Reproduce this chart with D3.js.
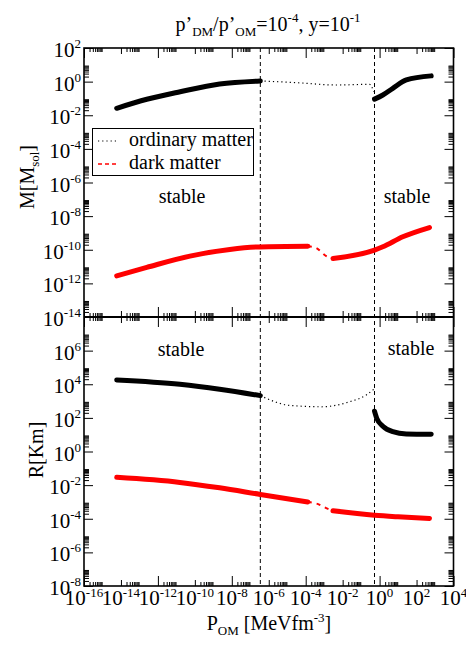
<!DOCTYPE html>
<html>
<head>
<meta charset="utf-8">
<script src="https://cdn.jsdelivr.net/npm/d3@7"></script>
<style>
  body { margin: 0; background: #fff; }
</style>
</head>
<body>
<div id="chart"></div>
<script>
// transition pressures (MeV fm^-3) marking the unstable region
var pCrit = [3.5e-7, 0.53];

// top panel: mass [M_sol] vs P_OM, [pressure, value]
var massOrdStable1 = [[5.9e-15, 0.026], [2.5e-13, 0.089], [1.6e-11, 0.25], [2.2e-9, 0.72], [3.5e-7, 1.1]];
var massOrdUnstable = [[3.5e-7, 1.1], [3.2e-5, 0.87], [4.6e-3, 0.63], [0.29, 0.69], [0.48, 0.25]];
var massOrdStable2 = [[0.53, 0.091], [1.5, 0.16], [5.2, 0.40], [28, 1.26], [620, 2.2]];
var massDarkStable1 = [[5.9e-15, 2.8e-12], [2.5e-13, 8.9e-12], [5.4e-11, 4.2e-11], [7.8e-9, 1.05e-10], [3.2e-7, 1.48e-10], [1.3e-4, 1.6e-10]];
var massDarkUnstable = [[1.3e-4, 1.6e-10], [3.5e-4, 1.3e-10], [1.3e-3, 4.2e-11], [3.0e-3, 3.0e-11]];
var massDarkStable2 = [[3.0e-3, 3.0e-11], [0.53, 9.5e-11], [1.5, 1.5e-10], [18, 5.9e-10], [500, 2.1e-9]];

// bottom panel: radius [Km] vs P_OM
var radOrdStable1 = [[5.9e-15, 1.8e4], [1.55e-11, 1.0e4], [2.2e-9, 5.1e3], [3.5e-7, 2.1e3]];
var radOrdUnstable = [[3.5e-7, 2.1e3], [1.4e-5, 550], [7.1e-4, 457], [0.024, 912], [0.19, 2290], [0.48, 5000]];
var radOrdStable2 = [[0.53, 250], [0.7, 93], [1.5, 32], [5.2, 15], [28, 11], [620, 10.5]];
var radDarkStable1 = [[5.9e-15, 0.029], [1.55e-11, 0.0145], [2.2e-9, 6.9e-3], [3.5e-7, 2.8e-3], [1.3e-4, 1.0e-3]];
var radDarkUnstable = [[1.3e-4, 1.0e-3], [4.7e-4, 7.4e-4], [1.5e-3, 4.0e-4], [3.0e-3, 2.95e-4]];
var radDarkStable2 = [[3.0e-3, 2.95e-4], [0.53, 1.6e-4], [10, 1.3e-4], [500, 1.05e-4]];

// tick label exponents
var xExps = [-16, -14, -12, -10, -8, -6, -4, -2, 0, 2, 4];
var massExps = [2, 0, -2, -4, -6, -8, -10, -12, -14];
var radExps = [6, 4, 2, 0, -2, -4, -6, -8];

var w = 466, h = 645;
var pLeft = 84, pRight = 453.5, pTop = 48, pMid = 317, pBottom = 586;

var x = d3.scaleLog().domain([1e-16, 1e4]).range([pLeft, pRight]);
var yM = d3.scaleLog().domain([1e-14, 1e2]).range([pMid, pTop]);
var yR = d3.scaleLog().domain([1e-8, 1e8]).range([pBottom, pMid]);

var svg = d3.select("#chart")
    .append("svg")
    .attr("width", w)
    .attr("height", h)
    .attr("font-family", "'Liberation Serif', 'DejaVu Serif', serif")
    .style("white-space", "pre");

function rich(sel, parts) {
    var cur = 0;
    parts.forEach(function (p) {
        var shift = p[1] || 0;
        sel.append("tspan")
            .attr("dy", shift - cur)
            .attr("font-size", p[2] || null)
            .text(p[0]);
        cur = shift;
    });
    return sel;
}

function minorVals(lo, hi) {
    var out = [];
    for (var e = lo; e < hi; e += 2) {
        for (var m = 2; m <= 9; m++) out.push(m * Math.pow(10, e));
    }
    return out;
}

// tick marks, all four sides of each panel
function ticks(axisFn, scale, pos, vals, size) {
    var g = svg.append("g")
        .attr("transform", pos)
        .call(axisFn(scale).tickValues(vals).tickSize(size).tickSizeOuter(0).tickFormat(""));
    g.select(".domain").remove();
    g.selectAll("line").attr("stroke", "#000").attr("stroke-width", 1);
}

var xLong = d3.range(-16, 5, 4).map(function (e) { return Math.pow(10, e); });
var xMid = d3.range(-14, 4, 4).map(function (e) { return Math.pow(10, e); });
var xMinor = minorVals(-16, 4);

[[pTop, d3.axisBottom], [pMid, d3.axisTop], [pMid, d3.axisBottom], [pBottom, d3.axisTop]].forEach(function (a) {
    var t = "translate(0," + a[0] + ")";
    ticks(a[1], x, t, xLong, 10);
    ticks(a[1], x, t, xMid, 6);
    ticks(a[1], x, t, xMinor, 4);
});

[[pLeft, d3.axisRight], [pRight, d3.axisLeft]].forEach(function (a) {
    var t = "translate(" + a[0] + ",0)";
    ticks(a[1], yM, t, massExps.map(function (e) { return Math.pow(10, e); }), 9);
    ticks(a[1], yM, t, minorVals(-14, 2), 5);
    ticks(a[1], yR, t, radExps.map(function (e) { return Math.pow(10, e); }), 9);
    ticks(a[1], yR, t, minorVals(-8, 8), 5);
});

// frames
svg.append("rect")
    .attr("x", pLeft).attr("y", pTop)
    .attr("width", pRight - pLeft).attr("height", pBottom - pTop)
    .attr("fill", "none").attr("stroke", "#000").attr("stroke-width", 1.6);
svg.append("line")
    .attr("x1", pLeft).attr("x2", pRight)
    .attr("y1", pMid).attr("y2", pMid)
    .attr("stroke", "#000").attr("stroke-width", 1.8);

// transition markers
svg.selectAll("line.crit")
    .data(pCrit)
    .enter()
    .append("line")
    .attr("class", "crit")
    .attr("x1", function (d) { return x(d); })
    .attr("x2", function (d) { return x(d); })
    .attr("y1", pTop).attr("y2", pBottom)
    .attr("stroke", "#000").attr("stroke-width", 1)
    .attr("stroke-dasharray", "4,3");

// curves
var styles = {
    ordStable: {stroke: "#000", width: 5, dash: null},
    ordUnstable: {stroke: "#000", width: 1.2, dash: "1.2,3"},
    darkStable: {stroke: "#ff0000", width: 5, dash: null},
    darkUnstable: {stroke: "#ff0000", width: 2, dash: "4,5"}
};

function curve(data, yScale, style) {
    var s = styles[style];
    var line = d3.line()
        .x(function (d) { return x(d[0]); })
        .y(function (d) { return yScale(d[1]); })
        .curve(d3.curveMonotoneX);
    svg.append("path")
        .datum(data)
        .attr("d", line)
        .attr("fill", "none")
        .attr("stroke", s.stroke)
        .attr("stroke-width", s.width)
        .attr("stroke-linecap", s.dash ? "butt" : "round")
        .attr("stroke-dasharray", s.dash);
}

curve(massOrdUnstable, yM, "ordUnstable");
curve(massOrdStable1, yM, "ordStable");
curve(massOrdStable2, yM, "ordStable");
curve(massDarkUnstable, yM, "darkUnstable");
curve(massDarkStable1, yM, "darkStable");
curve(massDarkStable2, yM, "darkStable");

curve(radOrdUnstable, yR, "ordUnstable");
curve(radOrdStable1, yR, "ordStable");
curve(radOrdStable2, yR, "ordStable");
curve(radDarkUnstable, yR, "darkUnstable");
curve(radDarkStable1, yR, "darkStable");
curve(radDarkStable2, yR, "darkStable");

// tick labels
xExps.forEach(function (e) {
    rich(svg.append("text")
        .attr("x", x(Math.pow(10, e)))
        .attr("y", 605)
        .attr("text-anchor", "middle")
        .attr("font-size", 21), [["10", 0], [String(e), -8, 13]]);
});

function yLabels(exps, scale) {
    exps.forEach(function (e) {
        rich(svg.append("text")
            .attr("x", 81)
            .attr("y", scale(Math.pow(10, e)) + 9)
            .attr("text-anchor", "end")
            .attr("font-size", 21), [["10", 0], [String(e), -9, 13]]);
    });
}
yLabels(massExps, yM);
yLabels(radExps, yR);

// axis titles
rich(svg.append("text")
    .attr("x", 269).attr("y", 630)
    .attr("text-anchor", "middle").attr("font-size", 20),
    [["P", 0], ["OM", 5, 13], [" [MeVfm", 0], ["-3", -8, 13], ["]", 0]]);

rich(svg.append("text")
    .attr("transform", "translate(34,177) rotate(-90)")
    .attr("text-anchor", "middle").attr("font-size", 20),
    [["M[M", 0], ["sol", 5, 13], ["]", 0]]);

svg.append("text")
    .attr("transform", "translate(43,450) rotate(-90)")
    .attr("text-anchor", "middle").attr("font-size", 20)
    .text("R[Km]");

rich(svg.append("text")
    .attr("x", 268).attr("y", 31)
    .attr("text-anchor", "middle").attr("font-size", 20),
    [["p’", 0], ["DM", 5, 13], ["/p’", 0], ["OM", 5, 13], ["=10", 0], ["-4", -9, 13],
     [", y=10", 0], ["-1", -9, 13]]);

// region labels
[[182, 203], [407, 203], [181, 356], [411, 355]].forEach(function (p) {
    svg.append("text")
        .attr("x", p[0]).attr("y", p[1])
        .attr("text-anchor", "middle").attr("font-size", 20)
        .text("stable");
});

// legend
var leg = svg.append("g");
leg.append("rect")
    .attr("x", 92.5).attr("y", 128.5)
    .attr("width", 161).attr("height", 47)
    .attr("fill", "#fff").attr("stroke", "#000").attr("stroke-width", 1);
leg.append("line")
    .attr("x1", 98).attr("x2", 118).attr("y1", 141).attr("y2", 141)
    .attr("stroke", "#000").attr("stroke-width", 1.2).attr("stroke-dasharray", "1.2,3");
leg.append("line")
    .attr("x1", 98).attr("x2", 118).attr("y1", 164).attr("y2", 164)
    .attr("stroke", "#ff0000").attr("stroke-width", 1.5).attr("stroke-dasharray", "4,3");
leg.append("text").attr("x", 129).attr("y", 146).attr("font-size", 20).text("ordinary matter");
leg.append("text").attr("x", 129).attr("y", 169).attr("font-size", 20).text("dark matter");
</script>
</body>
</html>
